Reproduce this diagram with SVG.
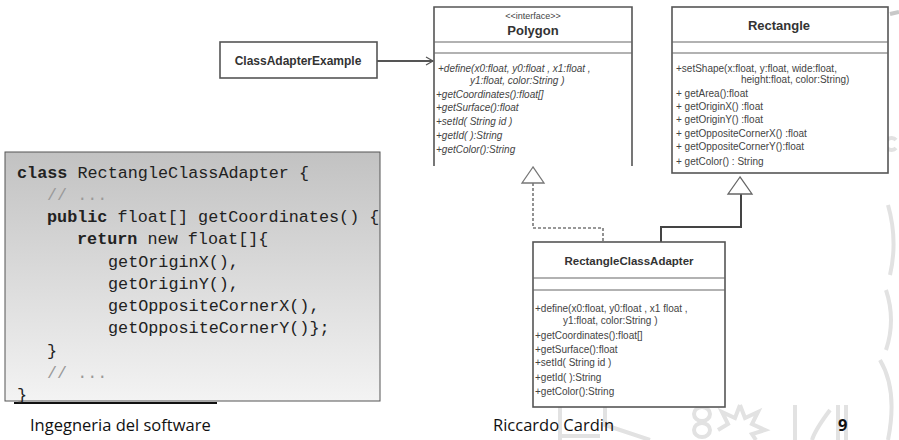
<svg xmlns="http://www.w3.org/2000/svg" width="899" height="440" viewBox="0 0 899 440">
<defs>
<linearGradient id="codeBg" x1="0" y1="0" x2="0" y2="1">
<stop offset="0" stop-color="#c2c2c2"/>
<stop offset="1" stop-color="#f3f3f3"/>
</linearGradient>
<marker id="openArrow" markerWidth="10" markerHeight="10" refX="8" refY="5" orient="auto" markerUnits="userSpaceOnUse">
<path d="M1,1 L8,5 L1,9" fill="none" stroke="#555" stroke-width="1.2"/>
</marker>
<style>
.box{fill:#fff;stroke:#555;stroke-width:1.6}
.sep{stroke:#666;stroke-width:1.2}
.name{font-family:"Liberation Sans",Arial,sans-serif;font-weight:bold;fill:#333;text-anchor:middle}
.m{font-family:"Liberation Sans",Arial,sans-serif;font-size:10px;fill:#444}
.it{font-style:italic}
.code{font-family:"Liberation Mono","Courier New",monospace;font-size:16.8px;fill:#222}
.kw{font-weight:bold}
.cm{fill:#9a9a9a}
.foot{font-family:"Open Sans","Noto Sans",sans-serif;font-size:16.5px;fill:#111}
.wm{fill:none;stroke:#e2e2e2;stroke-width:4}
</style>
</defs>

<g id="watermark">
<path class="wm" d="M560,405 V440 M560,436 H600 M605,405 H650 M605,405 V425 L650,440"/>
<ellipse cx="702" cy="414" rx="8" ry="7" class="wm" stroke-width="2"/>
<ellipse cx="702" cy="430" rx="8" ry="7" class="wm" stroke-width="2"/>
<path class="wm" stroke-width="2" d="M740,405 L745,418 L758,412 L752,424 L765,430 L752,434 L756,440 M740,405 L735,418 L722,412 L728,424 L718,430"/>
<path class="wm" d="M795,405 V440 M830,410 Q815,430 812,440 M838,405 V440 M846,405 V440"/>
<path class="wm" stroke-width="3" d="M888,205 Q898,240 890,275 M886,290 Q896,320 886,350 M880,360 Q898,390 888,440"/>
<path class="wm" stroke-width="3" d="M896,140 A6,6 0 1 0 896,148"/>
<path d="M890,14 L899,12" stroke="#c8c8c8" stroke-width="4"/>
</g>

<g id="connectors" fill="none">
<line x1="377" y1="61" x2="433" y2="61" stroke="#555" stroke-width="2" marker-end="url(#openArrow)"/>
<path d="M533,183 V228 H603 V242" stroke="#777" stroke-width="1.6" stroke-dasharray="3,2"/>
<path d="M533,167 L522,183 L544,183 Z" fill="#fff" stroke="#777" stroke-width="1.3"/>
<path d="M741,194 V227 H661 V242" stroke="#444" stroke-width="2"/>
<path d="M740,177 L728,194 L752,194 Z" fill="#fff" stroke="#666" stroke-width="1.3"/>
</g>

<g id="ClassAdapterExample">
<rect class="box" x="220" y="42" width="157" height="36"/>
<text class="name" x="298" y="65" font-size="12">ClassAdapterExample</text>
</g>

<g id="Polygon">
<path d="M434,166 V7 H632 V166" fill="#fff" stroke="#555" stroke-width="1.6"/>
<line class="sep" x1="434" y1="42" x2="632" y2="42"/>
<line class="sep" x1="434" y1="53" x2="632" y2="53"/>
<text x="533" y="19" font-family="Liberation Sans,Arial,sans-serif" font-size="9" fill="#444" text-anchor="middle">&lt;&lt;interface&gt;&gt;</text>
<text class="name" x="533" y="35" font-size="13">Polygon</text>
<text class="m it" x="438" y="72">+define(x0:float, y0:float , x1:float ,</text>
<text class="m it" x="470" y="84">y1:float, color:String )</text>
<text class="m it" x="436" y="98">+getCoordinates():float[]</text>
<text class="m it" x="436" y="111">+getSurface():float</text>
<text class="m it" x="436" y="125">+setId( String id )</text>
<text class="m it" x="436" y="139">+getId( ):String</text>
<text class="m it" x="436" y="153">+getColor():String</text>
</g>

<g id="Rectangle">
<rect class="box" x="672" y="7" width="216" height="166"/>
<line class="sep" x1="672" y1="42" x2="888" y2="42"/>
<line class="sep" x1="672" y1="53" x2="888" y2="53"/>
<text class="name" x="779" y="30" font-size="13">Rectangle</text>
<text class="m" x="676" y="72">+setShape(x:float, y:float, wide:float,</text>
<text class="m" x="741" y="83">height:float, color:String)</text>
<text class="m" x="676" y="97">+ getArea():float</text>
<text class="m" x="676" y="110">+ getOriginX() :float</text>
<text class="m" x="676" y="123">+ getOriginY() :float</text>
<text class="m" x="676" y="137">+ getOppositeCornerX() :float</text>
<text class="m" x="676" y="150">+ getOppositeCornerY():float</text>
<text class="m" x="676" y="165">+ getColor() : String</text>
</g>

<g id="RectangleClassAdapter">
<rect class="box" x="533" y="242" width="192" height="165"/>
<line class="sep" x1="533" y1="278" x2="725" y2="278"/>
<line class="sep" x1="533" y1="290" x2="725" y2="290"/>
<text class="name" x="629" y="265" font-size="11.5">RectangleClassAdapter</text>
<text class="m" x="535" y="312">+define(x0:float, y0:float , x1 float ,</text>
<text class="m" x="563" y="324">y1:float, color:String )</text>
<text class="m" x="535" y="339">+getCoordinates():float[]</text>
<text class="m" x="535" y="353">+getSurface():float</text>
<text class="m" x="535" y="366">+setId( String id )</text>
<text class="m" x="535" y="381">+getId( ):String</text>
<text class="m" x="535" y="395">+getColor():String</text>
</g>

<g id="code">
<rect x="5" y="152" width="375" height="249" fill="url(#codeBg)" stroke="#555" stroke-width="1"/>
<line x1="14" y1="403" x2="217" y2="403" stroke="#111" stroke-width="2"/>
<text class="code" x="17" y="178"><tspan class="kw">class</tspan> RectangleClassAdapter {</text>
<text class="code cm" x="47" y="200">// ...</text>
<text class="code" x="47" y="222"><tspan class="kw">public</tspan> float[] getCoordinates() {</text>
<text class="code" x="77" y="244"><tspan class="kw">return</tspan> new float[]{</text>
<text class="code" x="108" y="267">getOriginX(),</text>
<text class="code" x="108" y="289">getOriginY(),</text>
<text class="code" x="108" y="311">getOppositeCornerX(),</text>
<text class="code" x="108" y="333">getOppositeCornerY()};</text>
<text class="code" x="47" y="356">}</text>
<text class="code cm" x="47" y="378">// ...</text>
<text class="code" x="17" y="400">}</text>
</g>

<g id="footer">
<text class="foot" x="30" y="431">Ingegneria del software</text>
<text class="foot" x="493" y="431">Riccardo Cardin</text>
<text class="foot" x="838" y="431" font-weight="bold">9</text>
</g>
</svg>
